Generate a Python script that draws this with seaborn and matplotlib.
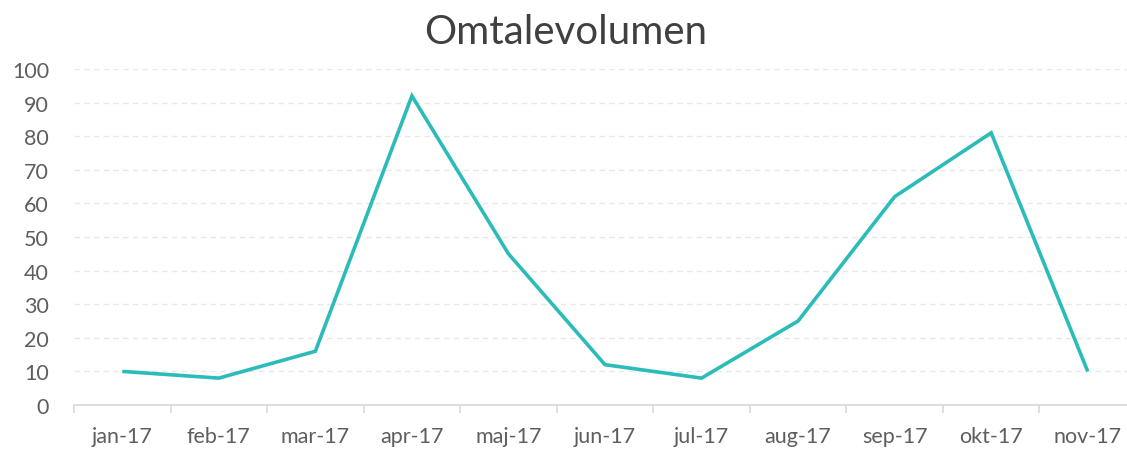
import matplotlib
matplotlib.use("Agg")
import matplotlib.pyplot as plt
import seaborn as sns
import pandas as pd
import numpy as np

months = ["jan-17", "feb-17", "mar-17", "apr-17", "maj-17", "jun-17",
          "jul-17", "aug-17", "sep-17", "okt-17", "nov-17"]
volume = [10, 8, 16, 92, 45, 12, 8, 25, 62, 81, 10]
y_ticks = list(range(0, 101, 10))

sns.set_theme(style="white")
plt.rcParams["font.family"] = ["Lato", "DejaVu Sans"]

df = pd.DataFrame({"month": months, "volume": volume})
df["pos"] = np.arange(len(months))

fig = plt.figure(figsize=(11.27, 4.52), dpi=100)
ax = fig.add_axes([74 / 1127, 1 - 406 / 452, (1136 - 74) / 1127, (406 - 70) / 452])

sns.lineplot(data=df, x="pos", y="volume", ax=ax, color="#2BBCB9",
             linewidth=2.6, solid_capstyle="butt", solid_joinstyle="miter")

ax.set_xlim(-0.5, len(months) - 0.5)
ax.set_ylim(0, 100)
ax.set_yticks(y_ticks)
ax.set_yticklabels([str(v) for v in y_ticks])
ax.set_xticks(df["pos"])
ax.set_xticklabels(months)
ax.set_xticks(np.arange(-0.5, len(months) - 0.5, 1.0), minor=True)

ax.grid(axis="y", color="#E8E8E8", linestyle=(0, (4, 3)), linewidth=1.0)
ax.set_axisbelow(True)
for s in ["top", "right", "left"]:
    ax.spines[s].set_visible(False)
ax.spines["bottom"].set_color("#D9D9D9")
ax.spines["bottom"].set_linewidth(1.2)

ax.tick_params(axis="x", which="major", length=0, pad=15, labelsize=15.5, labelcolor="#5E5E5E")
ax.tick_params(axis="x", which="minor", length=6, width=1.2, color="#D9D9D9", direction="out", bottom=True)
ax.tick_params(axis="y", length=0, pad=18, labelsize=15.5, labelcolor="#5E5E5E")

ax.set_xlabel("")
ax.set_ylabel("")
fig.text(566 / 1127, 1 - 32 / 452, "Omtalevolumen", ha="center", va="center",
         fontsize=29, color="#404040")

fig.savefig("out.png", dpi=100)
